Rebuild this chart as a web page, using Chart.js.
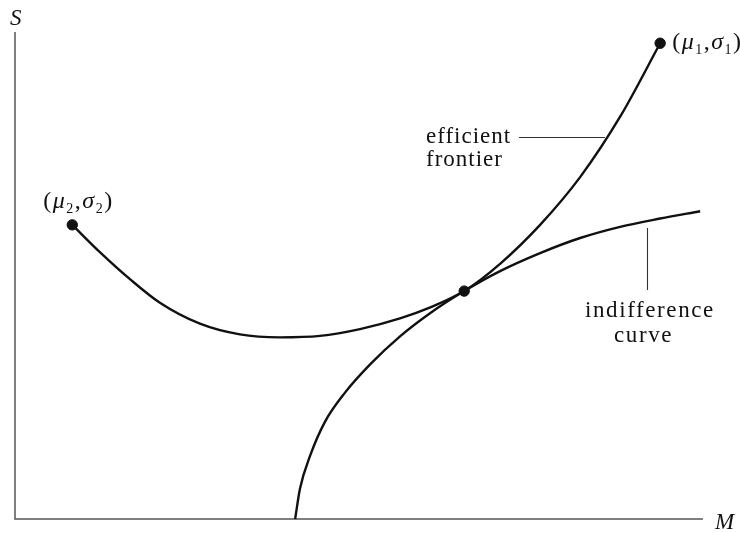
<!DOCTYPE html>
<html>
<head>
<meta charset="utf-8">
<script src="https://cdn.jsdelivr.net/npm/chart.js@4/dist/chart.umd.min.js"></script>
<style>
  html, body { margin: 0; padding: 0; background: #fff; }
  canvas { display: block; }
</style>
</head>
<body>
<canvas id="chart" width="740" height="533"></canvas>
<script>
// mean (M) on x, standard deviation (S) on y, arbitrary units 0..100
const frontierM = [8.3, 12.3, 16.7, 21.0, 26.8, 32.6, 38.4, 44.2, 50.0, 55.8, 60.1, 65.1, 70.3, 76.1, 81.9, 87.7, 93.5];
const frontierS = [60.4, 54.8, 49.2, 44.4, 40.1, 37.9, 37.3, 37.6, 39.0, 41.2, 43.4, 46.8, 52.4, 60.4, 70.2, 82.6, 97.7];

const indiffM = [40.6, 41.3, 42.8, 44.9, 47.8, 51.5, 55.8, 60.1, 65.1, 70.3, 76.1, 81.9, 87.7, 93.5, 99.3];
const indiffS = [0, 6.2, 13.1, 19.9, 25.9, 31.8, 37.5, 42.2, 46.8, 50.9, 54.6, 57.7, 60.0, 61.7, 63.2];

// marked points: asset 2, asset 1, tangency
const dotM = [8.3, 93.5, 65.1];
const dotS = [60.4, 97.7, 46.8];

const SERIF = '"Liberation Serif", "DejaVu Serif", serif';
const INK = '#111';

const zip = (xs, ys) => xs.map((v, i) => ({ x: v, y: ys[i] }));

/* writes a label made of plain / italic / subscript pieces */
function mathLabel(ctx, x, base, parts, size) {
  let cx = x;
  for (const [txt, kind] of parts) {
    let dy = 0;
    if (kind === 'i') ctx.font = `italic ${size}px ${SERIF}`;
    else if (kind === 's') { ctx.font = `${Math.round(size * 0.6)}px ${SERIF}`; dy = size * 0.2; }
    else ctx.font = `${size}px ${SERIF}`;
    ctx.fillText(txt, cx, base + dy);
    cx += ctx.measureText(txt).width + 1.5;
  }
}

const axesAndNotes = {
  id: 'axesAndNotes',
  beforeDatasetsDraw(chart) {
    const { ctx, scales: { x, y } } = chart;
    ctx.save();
    ctx.strokeStyle = '#555';
    ctx.lineWidth = 1.5;
    ctx.beginPath();
    ctx.moveTo(x.getPixelForValue(0), y.getPixelForValue(100));
    ctx.lineTo(x.getPixelForValue(0), y.getPixelForValue(0));
    ctx.lineTo(x.getPixelForValue(99.7), y.getPixelForValue(0));
    ctx.stroke();
    ctx.restore();
  },
  afterDatasetsDraw(chart) {
    const { ctx, scales: { x, y } } = chart;
    const px = m => x.getPixelForValue(m);
    const py = s => y.getPixelForValue(s);
    ctx.save();
    ctx.fillStyle = INK;
    ctx.textBaseline = 'alphabetic';

    // axis names
    ctx.font = `italic 23px ${SERIF}`;
    ctx.fillText('S', px(0) - 5, py(100) - 7);
    ctx.fillText('M', px(100) + 10, py(0) + 10);

    // endpoint labels
    mathLabel(ctx, px(dotM[0]) - 29, py(dotS[0]) - 17,
      [['(', 'n'], ['μ', 'i'], ['2', 's'], [',', 'n'], ['σ', 'i'], ['2', 's'], [')', 'n']], 24);
    mathLabel(ctx, px(dotM[1]) + 12, py(dotS[1]) + 6,
      [['(', 'n'], ['μ', 'i'], ['1', 's'], [',', 'n'], ['σ', 'i'], ['1', 's'], [')', 'n']], 24);

    // curve names with leader lines
    ctx.font = `23px ${SERIF}`;
    ctx.letterSpacing = '1px';
    ctx.fillText('efficient', 426, 143);
    ctx.fillText('frontier', 426, 166);
    ctx.letterSpacing = '1.6px';
    ctx.fillText('indifference', 585, 317);
    ctx.fillText('curve', 614, 342);

    ctx.strokeStyle = '#333';
    ctx.lineWidth = 1.1;
    ctx.beginPath();
    ctx.moveTo(519, 137.5);
    ctx.lineTo(605, 137.5);
    ctx.moveTo(647.5, 228);
    ctx.lineTo(647.5, 290);
    ctx.stroke();
    ctx.restore();
  }
};

const curve = (label, data) => ({
  label,
  data,
  showLine: true,
  borderColor: INK,
  borderWidth: 2.4,
  pointRadius: 0,
  cubicInterpolationMode: 'monotone',
  clip: false
});

new Chart(document.getElementById('chart'), {
  type: 'scatter',
  data: {
    datasets: [
      curve('efficient frontier', zip(frontierM, frontierS)),
      curve('indifference curve', zip(indiffM, indiffS)),
      {
        label: 'points',
        data: zip(dotM, dotS),
        showLine: false,
        pointRadius: 5.2,
        pointBackgroundColor: INK,
        pointBorderColor: INK,
        clip: false
      }
    ]
  },
  options: {
    responsive: false,
    animation: false,
    devicePixelRatio: 1,
    layout: { padding: { left: 15, right: 35, top: 32, bottom: 14 } },
    plugins: { legend: { display: false }, tooltip: { enabled: false } },
    scales: {
      x: { type: 'linear', min: 0, max: 100, display: false },
      y: { type: 'linear', min: 0, max: 100, display: false }
    }
  },
  plugins: [axesAndNotes]
});
</script>
</body>
</html>
